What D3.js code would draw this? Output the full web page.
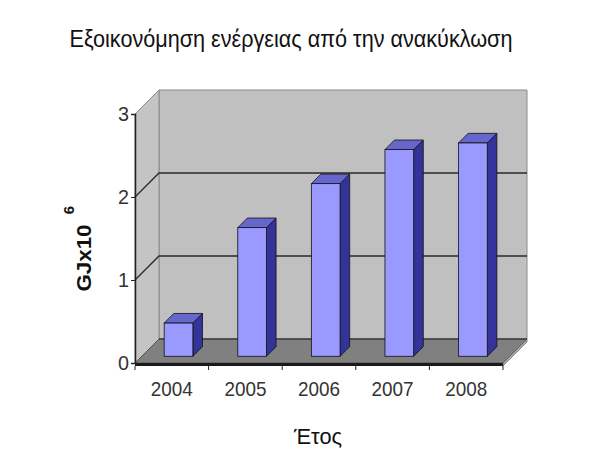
<!DOCTYPE html>
<html>
<head>
<meta charset="utf-8">
<script src="https://cdn.jsdelivr.net/npm/d3@7"></script>
<style>
  html, body { margin: 0; padding: 0; background: #ffffff; }
  svg { display: block; font-family: "Liberation Sans", Arial, sans-serif; }
</style>
</head>
<body>
<svg id="chart" width="590" height="450"></svg>
<script>
// Energy savings from recycling, per year (GJ x 10^6)
const years = ["2004", "2005", "2006", "2007", "2008"];
const savings = [0.40, 1.55, 2.08, 2.49, 2.57];
const yTicks = [0, 1, 2, 3];
const titleText = "Εξοικονόμηση ενέργειας από την ανακύκλωση";
const xTitle = "Έτος";
const yTitle = "GJx10";
const yTitleSup = "6";

const svg = d3.select("#chart");

// Front plane scales
const x = d3.scaleBand().domain(years).range([135, 503]).padding(0);
const y = d3.scaleLinear().domain([0, 3]).range([363, 114]);

// Depth vector of the 3D box (full depth) and bar slab position within it
const DX = 24, DY = -24;
const barDepth0 = 0.28, barDepth1 = 0.68;
const off = t => [DX * t, DY * t];

const pts = arr => arr.map(p => p.join(",")).join(" ");

const x0 = x.range()[0], x1 = x.range()[1];
const yb = y(0), yt = y(3);

const g = svg.append("g");

// Back wall
g.append("polygon")
  .attr("points", pts([[x0 + DX, yt + DY], [x1 + DX, yt + DY], [x1 + DX, yb + DY], [x0 + DX, yb + DY]]))
  .attr("fill", "#c0c0c0").attr("stroke", "#8a8a8a").attr("stroke-width", 1);

// Left side wall
g.append("polygon")
  .attr("points", pts([[x0, yt], [x0 + DX, yt + DY], [x0 + DX, yb + DY], [x0, yb]]))
  .attr("fill", "#c4c4c4").attr("stroke", "#8a8a8a").attr("stroke-width", 1);

// Gridlines across the left wall and back wall
yTicks.filter(v => v > 0 && v < 3).forEach(v => {
  g.append("polyline")
    .attr("points", pts([[x0, y(v)], [x0 + DX, y(v) + DY], [x1 + DX, y(v) + DY]]))
    .attr("fill", "none").attr("stroke", "#2a2a2a").attr("stroke-width", 1.3);
});

// Floor (with a thin front edge and side face)
const thick = 3;
g.append("polygon")
  .attr("points", pts([[x0, yb], [x1, yb], [x1 + DX, yb + DY], [x0 + DX, yb + DY]]))
  .attr("fill", "#808080").attr("stroke", "#555").attr("stroke-width", 1);
g.append("polygon")
  .attr("points", pts([[x1, yb], [x1 + DX, yb + DY], [x1 + DX, yb + DY + thick], [x1, yb + thick]]))
  .attr("fill", "#a8a8a8").attr("stroke", "#555").attr("stroke-width", 0.6);
g.append("rect")
  .attr("x", x0).attr("y", yb).attr("width", x1 - x0).attr("height", thick)
  .attr("fill", "#1a1a1a");
g.append("line")
  .attr("x1", x0 + DX).attr("x2", x1 + DX).attr("y1", yb + DY).attr("y2", yb + DY)
  .attr("stroke", "#2a2a2a").attr("stroke-width", 1.2);

// Bars: front, side and top faces
const bw = x.bandwidth() * 0.39;
const bars = g.selectAll("g.bar")
  .data(years.map((yr, i) => ({ yr, v: savings[i] })))
  .join("g").attr("class", "bar");

bars.each(function (d) {
  const [ox, oy] = off(barDepth0);
  const [bx, by] = off(barDepth1 - barDepth0);
  const left = x(d.yr) + (x.bandwidth() - bw) / 2 + ox;
  const right = left + bw;
  const top = y(d.v) + oy;
  const bot = y(0) + oy;
  const sel = d3.select(this);
  sel.append("polygon")
    .attr("points", pts([[right, top], [right + bx, top + by], [right + bx, bot + by], [right, bot]]))
    .attr("fill", "#333399").attr("stroke", "#111").attr("stroke-width", 0.8);
  sel.append("polygon")
    .attr("points", pts([[left, top], [left + bx, top + by], [right + bx, top + by], [right, top]]))
    .attr("fill", "#6666cc").attr("stroke", "#111").attr("stroke-width", 0.8);
  sel.append("rect")
    .attr("x", left).attr("y", top).attr("width", bw).attr("height", bot - top)
    .attr("fill", "#9999ff").attr("stroke", "#111").attr("stroke-width", 0.8);
});

// Value axis on the front-left edge
const yAxis = d3.axisLeft(y).tickValues(yTicks).tickSize(4).tickPadding(2).tickFormat(d3.format("d"));
const ya = svg.append("g").attr("transform", `translate(${x0},0)`).call(yAxis);
ya.select(".domain").attr("stroke", "#222").attr("stroke-width", 1.5);
ya.selectAll(".tick line").attr("stroke", "#222");
ya.selectAll(".tick text").attr("font-size", 21).attr("fill", "#333")
  .attr("font-family", "Liberation Sans, Arial, sans-serif")
  .attr("textLength", 11).attr("lengthAdjust", "spacingAndGlyphs");

// Category axis below the floor
const xAxis = d3.axisBottom(x).tickSize(0).tickPadding(15);
const xa = svg.append("g").attr("transform", `translate(0,${yb + thick})`).call(xAxis);
xa.select(".domain").remove();
xa.selectAll(".tick text").attr("font-size", 21).attr("fill", "#333")
  .attr("font-family", "Liberation Sans, Arial, sans-serif")
  .attr("textLength", 42).attr("lengthAdjust", "spacingAndGlyphs");
// tick marks at category boundaries
const bounds = years.map(yr => x(yr)).concat([x1]);
svg.append("g").selectAll("line").data(bounds).join("line")
  .attr("x1", d => d).attr("x2", d => d)
  .attr("y1", yb + thick).attr("y2", yb + thick + 4)
  .attr("stroke", "#222");

// Title
svg.append("text")
  .attr("x", 291).attr("y", 47).attr("text-anchor", "middle")
  .attr("font-size", 23).attr("fill", "#111")
  .attr("textLength", 443).attr("lengthAdjust", "spacingAndGlyphs")
  .text(titleText);

// Axis titles
svg.append("text")
  .attr("x", 318).attr("y", 444).attr("text-anchor", "middle")
  .attr("font-size", 22).attr("fill", "#111")
  .attr("textLength", 48).attr("lengthAdjust", "spacingAndGlyphs")
  .text(xTitle);

svg.append("text")
  .attr("transform", "translate(91,258) rotate(-90)")
  .attr("text-anchor", "middle")
  .attr("font-size", 21).attr("font-weight", "bold").attr("fill", "#111")
  .attr("textLength", 67).attr("lengthAdjust", "spacingAndGlyphs")
  .text(yTitle);
svg.append("text")
  .attr("transform", "translate(74,210) rotate(-90)")
  .attr("text-anchor", "middle")
  .attr("font-size", 15).attr("font-weight", "bold").attr("fill", "#111")
  .text(yTitleSup);
</script>
</body>
</html>
